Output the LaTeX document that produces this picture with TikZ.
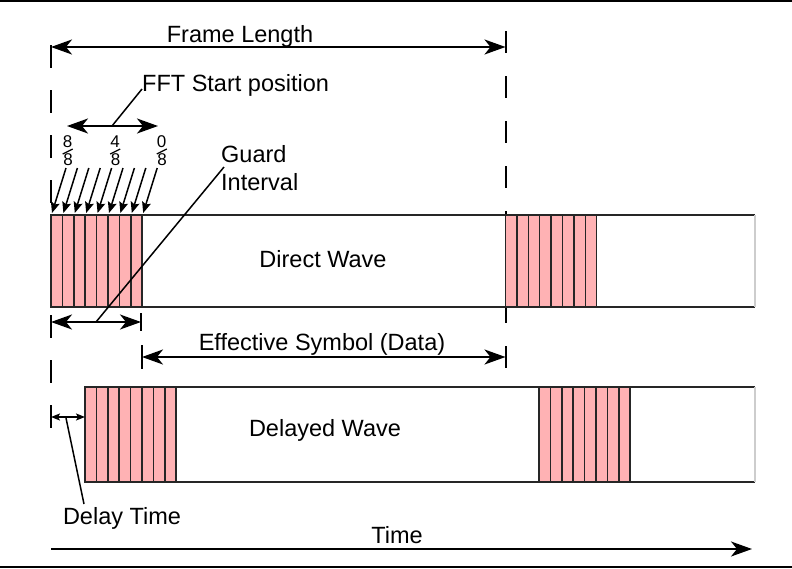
\documentclass[tikz,border=0pt]{standalone}
\usepackage{fontspec}
\setmainfont{Liberation Sans}
\usetikzlibrary{arrows.meta,positioning,calc}
\definecolor{guardpink}{RGB}{255,178,180}
\definecolor{edgegray}{RGB}{205,205,205}
\tikzset{
  bigtip/.tip={Stealth[length=21pt,width=15pt,inset=6pt]},
  dimline/.style={line width=2pt},
  pointer/.style={line width=1.5pt,-{Stealth[length=11pt,width=9pt,inset=2pt]}},
  smalltip/.tip={Stealth[length=9pt,width=7pt,inset=2pt]},
  stripe/.style={fill=guardpink,draw=black!85,line width=1.5pt},
  lbl/.style={inner sep=0pt},
  fraclbl/.style={inner sep=0pt,font=\fontsize{17}{17}\selectfont}
}

\begin{document}
\begin{tikzpicture}[x=1pt,y=-1pt,font=\fontsize{23.5}{28}\selectfont]
\useasboundingbox (0,0) rectangle (792,568);
% frame rules
\draw[line width=1.5pt] (0,1)--(792,1);
\draw[line width=1.5pt] (0,567)--(792,567);

% dashed markers
\foreach \y in {45,90,...,405} \draw[line width=2pt] (51,\y)--++(0,23);
\foreach \y in {31,76,...,346} \draw[line width=2pt] (505.5,\y)--++(0,22);

% direct wave
\draw[line width=2pt,black!85] (51,215)--(755,215) (51,307)--(755,307);
\draw[line width=1.5pt,edgegray] (755,215)--(755,307);
\foreach \xa in {51,505.5}{\foreach \i in {0,...,7}{\draw[stripe] ({\xa+\i*11.4},215) rectangle ++(11.4,92);}}
\node[lbl] (direct) at (323,259) {Direct Wave};

% delayed wave
\draw[line width=2pt,black!85] (85,387)--(755,387) (85,482)--(755,482);
\draw[line width=1.5pt,edgegray] (755,387)--(755,482);
\foreach \xa in {85,539}{\foreach \i in {0,...,7}{\draw[stripe] ({\xa+\i*11.4},387) rectangle ++(11.4,95);}}
\node[lbl] (delayed) at (325,430) {Delayed Wave};

% frame length
\coordinate (fl-l) at (51,47);
\coordinate (fl-r) at (505.5,47);
\draw[dimline,bigtip-bigtip] (fl-l)--(fl-r);
\node[lbl] (framelen) at (240,36) {Frame Length};

% fft start position
\coordinate (fft-l) at (67,126);
\coordinate (fft-r) at (158,126);
\draw[dimline,bigtip-bigtip] (fft-l)--(fft-r);
\node[lbl,anchor=west] (fftlbl) at (142,85) {FFT Start position};
\coordinate (fft-m) at (112,126);
\draw[line width=1.5pt] (fft-m)--(142,89);

% fractions 8/8, 4/8, 0/8
\foreach \x/\t/\b/\n in {67.5/8/8/a,115/4/8/b,161.5/0/8/c}{
  \node[fraclbl] (num-\n) at (\x,142) {\t};
  \node[fraclbl] (den-\n) at (\x+0.5,160) {\b};
  \draw[line width=1.3pt] ($(num-\n)!0.5!(den-\n)+(-5,3)$)--++(10,-5);
}
\foreach \i in {0,...,8} \draw[pointer] ({66+\i*11.4},168)--({52+\i*11.4},213);

% guard interval
\coordinate (gi-l) at (51,322);
\coordinate (gi-r) at (141,322);
\draw[dimline,bigtip-bigtip] (gi-l)--(gi-r);
\draw[line width=2pt] (141,313)--(141,331);
\node[lbl,anchor=north west,align=left] (guard) at (221,145) {Guard\\Interval};
\coordinate (gi-m) at (96,322);
\draw[line width=1.5pt] (gi-m)--(224,167);

% effective symbol
\coordinate (es-l) at (142,357);
\coordinate (es-r) at (505.5,357);
\draw[dimline,bigtip-bigtip] (es-l)--(es-r);
\draw[line width=2pt] (142,345)--(142,369);
\node[lbl] (effsym) at (322,344) {Effective Symbol (Data)};

% delay time
\coordinate (dt-l) at (51,417);
\coordinate (dt-r) at (85,417);
\draw[line width=1.5pt,smalltip-smalltip] (dt-l)--(dt-r);
\coordinate (dt-m) at (66,418);
\node[lbl] (delaytime) at (122,518) {Delay Time};
\draw[line width=1.5pt] (dt-m)--(84,504);

% time axis
\coordinate (t-l) at (51,549);
\coordinate (t-r) at (752,549);
\draw[dimline,-bigtip] (t-l)--(t-r);
\node[lbl] (timelbl) at (397,535) {Time};
\end{tikzpicture}
\end{document}
